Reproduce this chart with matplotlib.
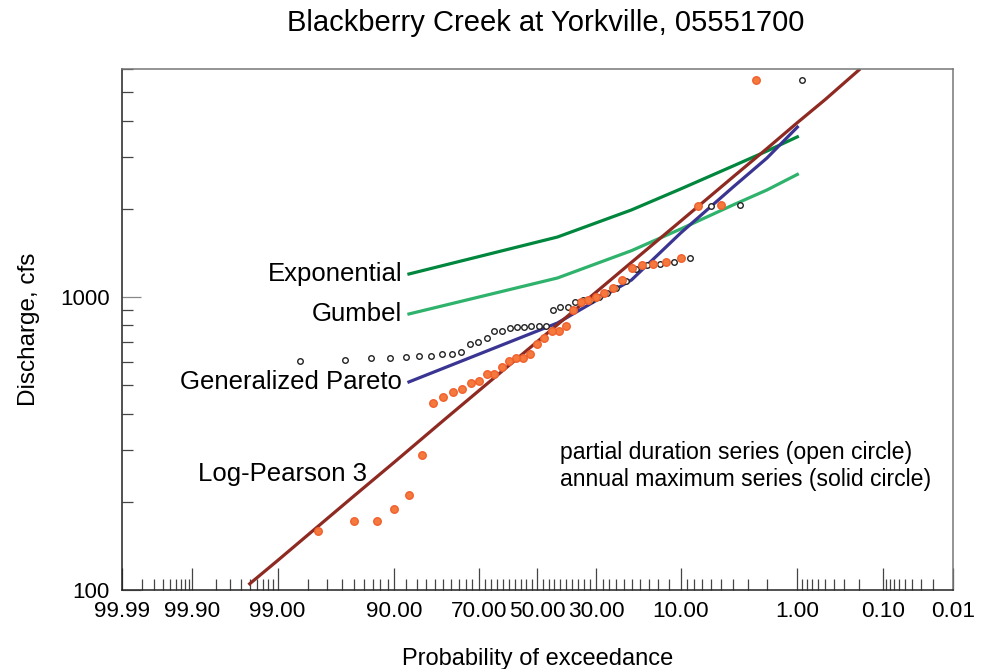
import matplotlib
matplotlib.use('Agg')
import matplotlib.pyplot as plt
import numpy as np
from matplotlib.ticker import FixedLocator, FixedFormatter, NullFormatter, LogLocator
from statistics import NormalDist

plt.rcParams['font.family'] = ['Liberation Sans', 'DejaVu Sans']

# fitted frequency curves, exceedance probability in percent
curve_p = [87.5, 42.9, 20, 10, 4, 2, 1]
exponential_q = [1198, 1602, 1982, 2337, 2799, 3148, 3520]
gumbel_q = [875, 1161, 1439, 1706, 2061, 2318, 2620]
gpareto_q = [513, 815, 1143, 1653, 2372, 2979, 3800]

lp3_p = [99.5, 99, 95, 90, 80, 50, 20, 10, 4, 2, 1, 0.5, 0.2]
lp3_q = [105, 126, 209, 273, 379, 705, 1313, 1815, 2569, 3210, 3936, 4720, 5957]

# annual maximum series (solid circles)
annual_p = [2.5, 5.0, 7.5, 10.0, 12.5, 15.0, 17.5, 20.0, 22.5, 25.0, 27.5, 30.0, 32.5,
            35.0, 37.5, 40.0, 42.5, 45.0, 47.5, 50.0, 52.5, 55.0, 57.5, 60.0, 62.5, 65.0,
            67.5, 70.0, 72.5, 75.0, 77.5, 80.0, 82.5, 85.0, 87.5, 90.0, 92.5, 95.0, 97.5]
annual_q = [5503, 2061, 2045, 1362, 1320, 1299, 1290, 1252, 1139, 1071, 1032, 1002, 974,
            959, 905, 796, 767, 766, 723, 690, 637, 621, 618, 605, 578, 546,
            546, 517, 508, 484, 475, 457, 433, 290, 211, 189, 172, 172, 159]

# partial duration series (open circles)
partial_p = [0.90, 3.46, 6.03, 8.59, 11.15, 13.72, 16.28, 18.85, 21.41, 23.97, 26.54, 29.10, 31.67,
             34.23, 36.79, 39.36, 41.92, 44.49, 47.05, 49.62, 52.18, 54.74, 57.31, 59.87, 62.44, 65.00,
             67.56, 70.13, 72.69, 75.26, 77.82, 80.38, 82.95, 85.51, 88.08, 90.64, 93.21, 95.77, 98.33]
partial_q = [5503, 2061, 2039, 1362, 1320, 1299, 1289, 1249, 1137, 1071, 1029, 1002, 974,
             974, 958, 926, 923, 904, 798, 798, 796, 792, 788, 782, 767, 766,
             723, 704, 690, 648, 639, 638, 631, 627, 622, 621, 618, 610, 606]

major_p = [99.99, 99.9, 99, 90, 70, 50, 30, 10, 1, 0.1, 0.01]
major_labels = ['99.99', '99.90', '99.00', '90.00', '70.00', '50.00', '30.00', '10.00', '1.00', '0.10', '0.01']
minor_p = ([99.98, 99.97, 99.96, 99.95, 99.94, 99.93, 99.92, 99.91]
           + [99.8, 99.7, 99.6, 99.5, 99.4, 99.3, 99.2, 99.1]
           + [98, 97, 96, 95, 94, 93, 92, 91]
           + [88, 86, 84, 82, 80, 78, 76, 74, 72]
           + [68, 66, 64, 62, 60, 58, 56, 54, 52]
           + [48, 46, 44, 42, 40, 38, 36, 34, 32]
           + [28, 26, 24, 22, 20, 18, 16, 14, 12]
           + [9, 8, 7, 6, 5, 4, 3, 2]
           + [0.9, 0.8, 0.7, 0.6, 0.5, 0.4, 0.3, 0.2]
           + [0.09, 0.08, 0.07, 0.06, 0.05, 0.04, 0.03, 0.02])

# normal probability scale (increasing in p; axis is inverted via xlim)
_nd = NormalDist()
_fwd = np.vectorize(lambda v: _nd.inv_cdf(v / 100.0), otypes=[float])
_inv = np.vectorize(lambda v: 100.0 * _nd.cdf(v), otypes=[float])


def prob_forward(p):
    p = np.clip(np.asarray(p, dtype=float), 1e-7, 100 - 1e-7)
    return _fwd(p)


def prob_inverse(z):
    return _inv(np.asarray(z, dtype=float))


fig = plt.figure(figsize=(9.9, 6.69), dpi=100)
ax = fig.add_axes([0.1232, 0.1181, 0.8394, 0.7788])
ax.set_xscale('function', functions=(prob_forward, prob_inverse))
ax.set_yscale('log')

lw = 2.3
ax.plot(curve_p, exponential_q, color='#00873d', lw=lw)
ax.plot(curve_p, gumbel_q, color='#2fb36c', lw=lw)
ax.plot(curve_p, gpareto_q, color='#3a3592', lw=lw)
ax.plot(lp3_p, lp3_q, color='#8e2a22', lw=lw)

ax.plot(partial_p, partial_q, 'o', ms=4.0, mfc='white', mec='#222222', mew=1.0, ls='none')
ax.plot(annual_p, annual_q, 'o', ms=5.4, mfc='#f5793c', mec='#f0602d', mew=1.0, ls='none')

ax.set_xlim(99.99, 0.01)
ax.set_ylim(100, 6000)

ax.xaxis.set_major_locator(FixedLocator(major_p))
ax.xaxis.set_major_formatter(FixedFormatter(major_labels))
ax.xaxis.set_minor_locator(FixedLocator(minor_p))
ax.xaxis.set_minor_formatter(NullFormatter())
ax.yaxis.set_major_locator(FixedLocator([100, 1000]))
ax.yaxis.set_major_formatter(FixedFormatter(['100', '1000']))
ax.yaxis.set_minor_locator(LogLocator(base=10, subs=np.arange(2, 10)))
ax.yaxis.set_minor_formatter(NullFormatter())

ax.tick_params(axis='x', which='major', direction='in', length=16, width=0.9,
               color='#444444', labelsize=16.2, pad=8)
ax.tick_params(axis='x', which='minor', direction='in', length=8, width=0.9, color='#444444')
ax.tick_params(axis='y', which='major', direction='in', length=14, width=0.9,
               color='#888888', labelsize=16.0, pad=9)
ax.tick_params(axis='y', which='minor', direction='in', length=8, width=0.9, color='#444444')
ax.tick_params(top=False, right=False, which='both')

for side in ['left', 'bottom']:
    ax.spines[side].set_color('#222222')
    ax.spines[side].set_linewidth(1.1)
for side in ['top', 'right']:
    ax.spines[side].set_color('#777777')
    ax.spines[side].set_linewidth(1.1)

# curve labels
ax.annotate('Exponential', (curve_p[0], exponential_q[0]), xytext=(-5, 0),
            textcoords='offset points', ha='right', va='center', fontsize=18.5)
ax.annotate('Gumbel', (curve_p[0], gumbel_q[0]), xytext=(-5, 0),
            textcoords='offset points', ha='right', va='center', fontsize=18.5)
ax.annotate('Generalized Pareto', (curve_p[0], gpareto_q[0]), xytext=(-5, 0),
            textcoords='offset points', ha='right', va='center', fontsize=18.5)
ax.text(93.7, 249, 'Log-Pearson 3', ha='right', va='center', fontsize=18.5)

ax.text(0.527, 0.238, 'partial duration series (open circle)\nannual maximum series (solid circle)',
        transform=ax.transAxes, ha='left', va='center', fontsize=16.6, linespacing=1.25)

fig.text(0.551, 0.966, 'Blackberry Creek at Yorkville, 05551700', ha='center', va='center', fontsize=21)
ax.set_xlabel('Probability of exceedance', fontsize=17, labelpad=19)
ax.set_ylabel('Discharge, cfs', fontsize=17.5, labelpad=14)

fig.savefig('out.png', dpi=100)
